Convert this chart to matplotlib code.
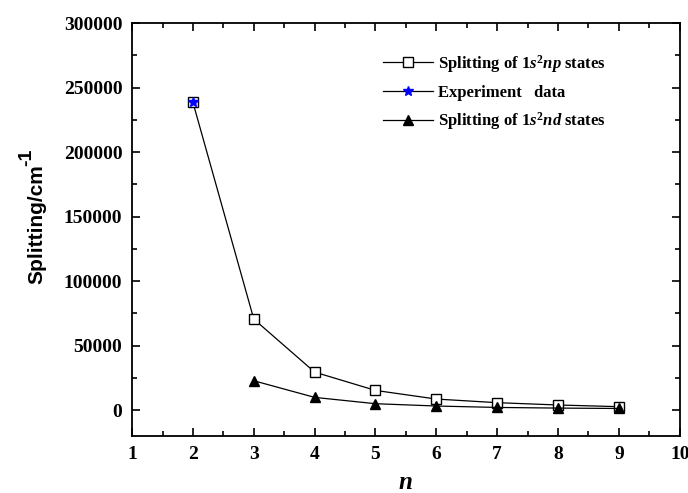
import numpy as np
import matplotlib
matplotlib.use("Agg")
import matplotlib.pyplot as plt
from matplotlib.ticker import MultipleLocator

n_np = [2, 3, 4, 5, 6, 7, 8, 9]
split_np = [238500, 70500, 29400, 15200, 8500, 5700, 3900, 2600]
n_exp = [2]
split_exp = [238500]
n_nd = [3, 4, 5, 6, 7, 8, 9]
split_nd = [22700, 9800, 4900, 3100, 2000, 1500, 1200]

plt.rcParams["mathtext.fontset"] = "custom"
plt.rcParams["mathtext.rm"] = "Liberation Serif:bold"
plt.rcParams["mathtext.it"] = "Liberation Serif:italic:bold"
plt.rcParams["mathtext.bf"] = "Liberation Serif:bold"

fig = plt.figure(figsize=(6.88, 4.93), dpi=100)
ax = fig.add_axes([0.192, 0.116, 0.796, 0.837])

ax.plot(n_np, split_np, color="black", lw=0.9, marker="s", ms=7,
        mfc="white", mec="black", mew=1.0,
        label=r"Splitting of 1$\mathit{s}^{2}\mathit{np}$ states")
ax.plot(n_exp, split_exp, color="black", lw=0.9, ls="-", marker="*", ms=7.5,
        mfc="blue", mec="blue", label="Experiment   data")
ax.plot(n_nd, split_nd, color="black", lw=0.9, marker="^", ms=7,
        mfc="black", mec="black",
        label=r"Splitting of 1$\mathit{s}^{2}\mathit{nd}$ states")

ax.set_xlim(1, 10)
ax.set_ylim(-20000, 300000)
ax.xaxis.set_major_locator(MultipleLocator(1))
ax.xaxis.set_minor_locator(MultipleLocator(0.5))
ax.yaxis.set_major_locator(MultipleLocator(50000))
ax.yaxis.set_minor_locator(MultipleLocator(25000))
ax.tick_params(which="both", direction="in", top=True, right=True, width=1.2)
ax.tick_params(which="major", length=6, labelsize=14, pad=7)
ax.tick_params(which="minor", length=3.5)
for sp in ax.spines.values():
    sp.set_linewidth(1.3)
for lab in ax.get_xticklabels() + ax.get_yticklabels():
    lab.set_fontfamily("Liberation Serif")
    lab.set_fontweight("bold")

ax.set_xlabel("n", fontfamily="Liberation Serif", fontstyle="italic",
              fontweight="bold", fontsize=18, labelpad=6)

# y label with a full-size superscript
fig.text(37 / 688, 1 - 224 / 493, "Splitting/cm", rotation=90, ha="center",
         va="center", fontfamily="Liberation Sans", fontweight="bold", fontsize=15)
fig.text(27 / 688, 1 - 157 / 493, "-1", rotation=90, ha="center",
         va="center", fontfamily="Liberation Sans", fontweight="bold", fontsize=14)

leg = ax.legend(loc="upper left", bbox_to_anchor=(0.43, 0.965), frameon=False,
                numpoints=1, handlelength=3.0, handletextpad=0.35,
                labelspacing=0.6,
                prop={"family": "Liberation Serif", "weight": "bold", "size": 12})

fig.savefig("out.png", dpi=100)
